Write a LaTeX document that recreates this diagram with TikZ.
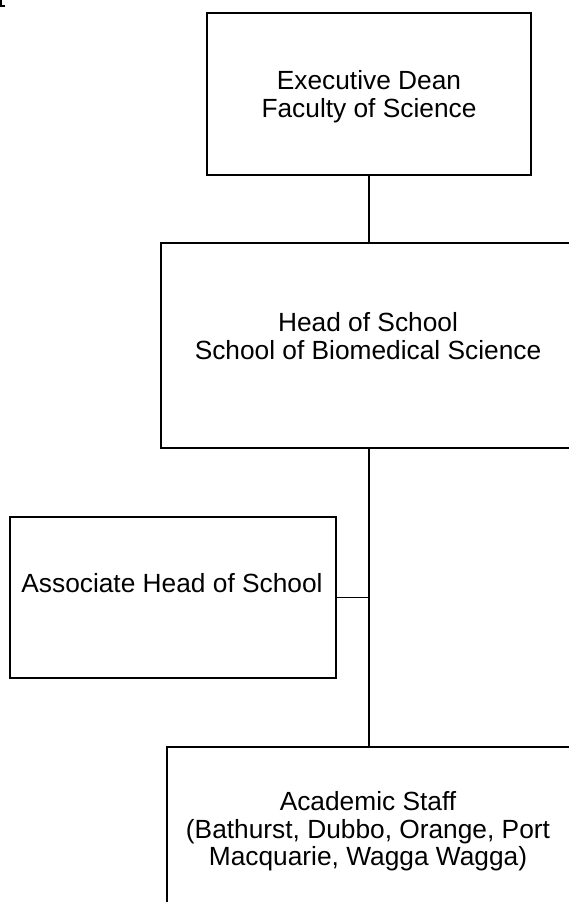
\documentclass[tikz,border=0pt]{standalone}
\usepackage{fontspec}
\setmainfont{Liberation Sans}
\usetikzlibrary{calc}
\tikzset{
         orgbox/.style=
          {
           draw,
           line width=1.6bp,
           rectangle,
           inner sep=0pt,
           outer sep=0pt
          },
         orgtext/.style=
          {
           align=center,
           inner sep=0pt,
           font=\fontsize{26.4}{27.5}\selectfont
          },
         orgline/.style={line width=1.3bp}
        }
\begin{document}
\begin{tikzpicture}[x=1bp,y=-1bp]

\clip (0,0) rectangle (569,902); % page frame

%%% Boxes

\node[orgbox,minimum width=324bp,minimum height=162bp] (dean) at (369,94) {}; % Executive Dean box
\node[orgtext] (dean-txt) at (369,96.5) {Executive Dean\\Faculty of Science}; % Executive Dean label
\node[orgbox,minimum width=416bp,minimum height=205bp] (head) at (369,345.5) {}; % Head of School box
\node[orgtext] (head-txt) at (368,336) {Head of School\\School of Biomedical Science}; % Head of School label
\node[orgbox,minimum width=326bp,minimum height=161bp] (assoc) at (173,597.5) {}; % Associate Head box
\node[orgtext] (assoc-txt) at (172,583) {Associate Head of School}; % Associate Head label
\node[orgbox,minimum width=404bp,minimum height=164bp] (staff) at (369,829) {}; % Academic Staff box
\node[orgtext] (staff-txt) at (368,831.5) {Academic Staff\\(Bathurst, Dubbo, Orange, Port\\Macquarie, Wagga Wagga)}; % Academic Staff label

% Wiring

\draw[orgline] (dean.south) -- (head.north); % Dean to Head
\draw[orgline] (head.south) -- (staff.north); % Head to Staff
\draw[orgline] (assoc.east) -- (assoc.east -| head.south); % Associate to trunk

% corner mark
\draw[line width=2bp] (1,0) -- (1,5.5) -- (4.5,5.5);
\end{tikzpicture}
\end{document}
